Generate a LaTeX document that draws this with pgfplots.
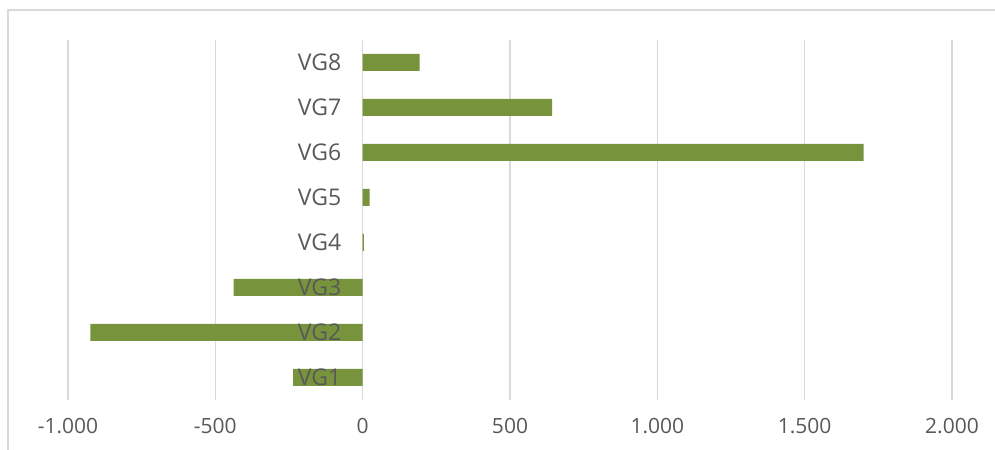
\documentclass[border=0pt]{standalone}
\usepackage{pgfplots}
\pgfplotsset{compat=1.18}
\usepackage{fontspec}
\setmainfont{Open Sans}
\definecolor{bargreen}{HTML}{77933C}
\definecolor{txtgray}{HTML}{595959}
\definecolor{gridgray}{HTML}{D9D9D9}
\pgfplotsset{
  base/.style={
    at={(0,0)}, anchor=south west,
    scale only axis,
    width=884bp, height=360bp,
    xmin=-1000, xmax=2000,
    ymin=-0.5, ymax=7.5,
    major tick length=0pt,
    clip=false,
  }
}
\begin{document}
\begin{tikzpicture}[x=1bp,y=1bp]
\useasboundingbox (-68,-50) rectangle (927,400);
\draw[gridgray, line width=1.2bp] (-60,-60) -- (-60,390) -- (940,390);
\begin{axis}[
  base,
  xbar, bar width=17bp,
  xtick={-1000,-500,0,500,1000,1500,2000},
  xticklabels={-1.000,-500,0,500,1.000,1.500,2.000},
  ytick=\empty,
  axis x line*=bottom,
  axis y line*=middle,
  x axis line style={draw=none},
  y axis line style={gridgray, line width=1.2bp},
  xmajorgrids,
  grid style={gridgray, line width=1.2bp},
  xticklabel style={font=\fontsize{21bp}{24bp}\selectfont, text=txtgray, yshift=-15bp},
]
\addplot[fill=bargreen, draw=none] coordinates {
  (-236,0) (-924,1) (-438,2) (4,3) (24,4) (1700,5) (643,6) (193,7)
};
\end{axis}
\begin{axis}[
  base,
  xtick=\empty,
  ytick={0,...,7},
  yticklabels={VG1,VG2,VG3,VG4,VG5,VG6,VG7,VG8},
  axis x line=none,
  axis y line*=middle,
  y axis line style={draw=none},
  yticklabel style={font=\fontsize{23bp}{26bp}\selectfont, text=txtgray, xshift=-18bp},
]
\end{axis}
\end{tikzpicture}
\end{document}
